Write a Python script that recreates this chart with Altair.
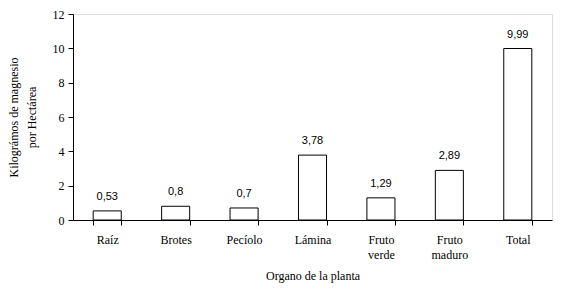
import altair as alt
import pandas as pd

categories = ["Raíz", "Brotes", "Pecíolo", "Lámina", "Fruto verde", "Fruto maduro", "Total"]
values = [0.53, 0.8, 0.7, 3.78, 1.29, 2.89, 9.99]
value_labels = ["0,53", "0,8", "0,7", "3,78", "1,29", "2,89", "9,99"]
y_ticks = [0, 2, 4, 6, 8, 10, 12]

df = pd.DataFrame({"organo": categories, "kg": values, "lab": value_labels})

serif = "Liberation Serif"
sans = "Liberation Sans"

x = alt.X(
    "organo:N",
    sort=categories,
    scale=alt.Scale(paddingInner=0.59, paddingOuter=0.295),
    axis=alt.Axis(
        title="Organo de la planta",
        titlePadding=10,
        labelAngle=0,
        labelExpr="split(datum.label, ' ')", labelPadding=9, labelLineHeight=15,
        tickBand="extent",
    ),
)

y = alt.Y(
    "kg:Q",
    scale=alt.Scale(domain=[0, 12], nice=False),
    axis=alt.Axis(
        values=y_ticks, labelOverlap=False, title=["Kilográmos de magnesio", "por Hectárea"],
        titlePadding=14, titleLineHeight=18, labelPadding=4, grid=False,
    ),
)

bars = alt.Chart(df).mark_bar(fill="white", stroke="black", strokeWidth=1).encode(x=x, y=y)

text = alt.Chart(df).mark_text(font=sans, fontSize=11, color="black", baseline="bottom", dy=-9).encode(
    x=x,
    y=y,
    text="lab:N",
)

chart = (bars + text).properties(
    width=479, height=206,
    autosize=alt.AutoSizeParams(type="none"),
    padding={"left": 65, "top": 6, "right": 3, "bottom": 70},
).configure_view(stroke="black", strokeWidth=1).configure(background="white").configure_axis(
    labelFont=serif, labelFontSize=12, labelColor="black",
    titleFont=serif, titleFontSize=12, titleFontWeight="normal", titleColor="black",
    tickSize=5, tickColor="black", domainColor="black",
)

chart.save("out.html", embed_options={"renderer": "svg", "actions": False})
